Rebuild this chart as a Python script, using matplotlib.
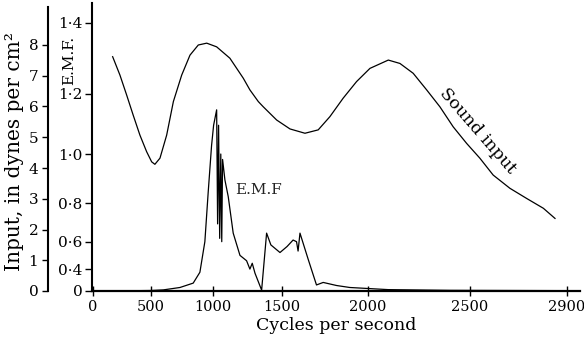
import numpy as np
import matplotlib
matplotlib.use("Agg")
import matplotlib.pyplot as plt

# DATA
X_TICKS = [0, 500, 1000, 1500, 2000, 2500, 2900]
X_TICK_LABELS = ["0", "500", "1000", "1500", "2000", "2500", "2900"]
EMF_TICKS = [0, 0.4, 0.6, 0.8, 1.0, 1.2, 1.4]
EMF_TICK_LABELS = ["0", "0·4", "0·6", "0·8", "1·0", "1·2", "1·4"]
INPUT_TICKS = [0, 1, 2, 3, 4, 5, 6, 7, 8]

sound_freq = [170, 233, 291, 347, 405, 463, 506, 532, 573, 627, 681, 748, 815, 882,
              950, 1027, 1123, 1220, 1268, 1329, 1365, 1462, 1547, 1634, 1711, 1779,
              1856, 1934, 2010, 2100, 2157, 2222, 2288, 2353, 2418, 2484, 2541, 2596,
              2665, 2734, 2803, 2851]
sound_input = [7.62, 7.02, 6.37, 5.72, 5.07, 4.53, 4.20, 4.12, 4.32, 5.07, 6.16, 7.02, 7.67, 8.00,
               8.06, 7.94, 7.57, 6.92, 6.54, 6.16, 5.99, 5.56, 5.27, 5.13, 5.24, 5.67,
               6.27, 6.81, 7.24, 7.51, 7.40, 7.08, 6.54, 5.99, 5.34, 4.80, 4.32, 3.77,
               3.34, 3.01, 2.69, 2.36]

emf_freq = [0, 300, 500, 600, 734, 841, 895, 935, 962, 989, 1005, 1018, 1027, 1034,
            1041, 1049, 1057, 1064, 1070, 1087, 1111, 1147, 1196, 1244, 1268, 1285,
            1305, 1353, 1389, 1420, 1486, 1530, 1565, 1585, 1594, 1605, 1653, 1701,
            1740, 1818, 1895, 2100, 2400, 2900]
emf = [0.03, 0.04, 0.06, 0.09, 0.16, 0.24, 0.37, 0.6, 0.85, 1.03, 1.10, 1.13, 1.15, 0.7,
       1.1, 0.62, 1.0, 0.6, 0.98, 0.9, 0.83, 0.65, 0.51, 0.47, 0.40, 0.45,
       0.36, 0.08, 0.65, 0.58, 0.53, 0.57, 0.61, 0.60, 0.54, 0.65, 0.48, 0.21,
       0.25, 0.2, 0.16, 0.1, 0.07, 0.05]

# the original frequency axis is not linear: tick pixel spacing
_f = np.array([-500] + X_TICKS + [4000], dtype=float)
_p = np.array([35, 93, 151, 213, 282, 368, 470, 567, 567 + 1100 / 4.12])


def x_fwd(x):
    return np.interp(x, _f, _p)


def x_inv(p):
    return np.interp(p, _p, _f)


# E.M.F. scale is roughly quadratic
def sq_fwd(v):
    v = np.asarray(v, dtype=float)
    return np.sign(v) * v ** 2


def sq_inv(v):
    v = np.asarray(v, dtype=float)
    return np.sign(v) * np.sqrt(np.abs(v))


plt.rcParams["font.family"] = ["DejaVu Serif"]
W, H = 584, 342
fig = plt.figure(figsize=(W / 100, H / 100), dpi=100)
ax = fig.add_axes([92 / W, (H - 291) / H, (580 - 92) / W, (291 - 3) / H])

ax.set_xscale("function", functions=(x_fwd, x_inv))
ax.set_yscale("function", functions=(sq_fwd, sq_inv))
ax.set_xlim(-8, 2954)
ax.set_ylim(0, 1.45)

ax.plot(emf_freq, emf, color="black", lw=0.9)
ax.text(1334, 0.86, "E.M.F", fontsize=11, ha="center", va="center", color="#222222")

ax.set_xticks(X_TICKS)
ax.set_xticklabels(X_TICK_LABELS, fontsize=10.5)
ax.set_yticks(EMF_TICKS)
ax.set_yticklabels(EMF_TICK_LABELS, fontsize=11)
ax.tick_params(axis="x", direction="inout", length=7, width=1, pad=3)
ax.tick_params(axis="y", direction="out", length=5, width=1, pad=2)
ax.set_xlabel("Cycles per second", fontsize=12.5, labelpad=2)
ax.set_ylabel("E.M.F.", fontsize=11)
ax.yaxis.set_label_coords(-16 / 488, 0.80)

for s in ["top", "right"]:
    ax.spines[s].set_visible(False)
ax.spines["left"].set_linewidth(1.5)
ax.spines["bottom"].set_linewidth(1.6)

# sound input on its own axis, further left
ax2 = ax.twinx()
ax2.set_ylim(0, 288 / 30.75)
ax2.plot(sound_freq, sound_input, color="black", lw=0.9)
ax2.text(2533, 5.2, "Sound input", fontsize=12.5, rotation=-49,
         ha="center", va="center", rotation_mode="anchor")
ax2.spines["left"].set_position(("axes", -44 / 488))
ax2.spines["left"].set_bounds(0, 9.25)
ax2.spines["left"].set_linewidth(1.5)
ax2.yaxis.set_ticks_position("left")
ax2.yaxis.set_label_position("left")
for s in ["top", "right", "bottom"]:
    ax2.spines[s].set_visible(False)
ax2.set_yticks(INPUT_TICKS)
ax2.set_yticklabels([str(t) for t in INPUT_TICKS], fontsize=11)
ax2.tick_params(axis="y", direction="out", length=4, width=1, pad=3)
ax2.set_ylabel("Input, in dynes per cm²", fontsize=14.5)
ax2.yaxis.set_label_coords(-68 / 488, (291 - 152) / 288)

fig.savefig("out.png", dpi=100)
